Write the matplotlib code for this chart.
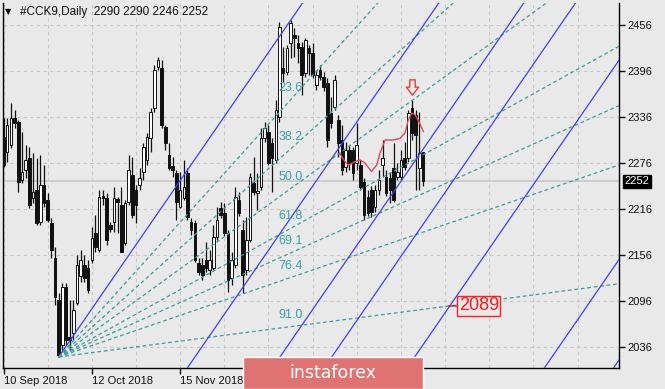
# -*- coding: utf-8 -*-
# MT4 style daily chart of #CCK9 with a fibo fan, parallel lines and a few marks
import numpy as np
import matplotlib
matplotlib.use('Agg')
import matplotlib.pyplot as plt
from matplotlib.patches import Rectangle
from matplotlib.path import Path
from matplotlib.transforms import offset_copy

# %% data (one value per daily bar)
opens = [2310, 2290, 2300, 2335, 2329, 2254, 2267, 2282, 2230, 2241,
         2199, 2247, 2228, 2198, 2152, 2097, 2039, 2114, 2049, 2054,
         2093, 2128, 2143, 2139, 2149, 2185, 2163, 2233, 2230, 2195,
         2199, 2229, 2221, 2172, 2225, 2260, 2241, 2247, 2264, 2280,
         2309, 2348, 2401, 2400, 2323, 2286, 2272, 2263, 2219, 2230,
         2263, 2199, 2198, 2146, 2143, 2149, 2136, 2139, 2180, 2217,
         2211, 2185, 2126, 2143, 2228, 2189, 2136, 2176, 2250, 2237,
         2245, 2309, 2316, 2302, 2280, 2336, 2400, 2395, 2433, 2443,
         2433, 2427, 2393, 2426, 2419, 2378, 2397, 2388, 2380, 2341,
         2349, 2332, 2306, 2271, 2293, 2293, 2276, 2273, 2251, 2232,
         2241, 2219, 2241, 2273, 2258, 2256, 2269, 2258, 2258, 2283,
         2283, 2348, 2339, 2269, 2290]
highs = [2335, 2335, 2354, 2345, 2332, 2316, 2299, 2297, 2289, 2282,
         2286, 2273, 2237, 2204, 2166, 2106, 2120, 2120, 2097, 2097,
         2156, 2163, 2156, 2149, 2193, 2208, 2241, 2241, 2237, 2199,
         2245, 2232, 2245, 2228, 2286, 2284, 2247, 2270, 2302, 2315,
         2348, 2404, 2414, 2410, 2326, 2302, 2284, 2267, 2264, 2280,
         2270, 2204, 2202, 2152, 2152, 2173, 2163, 2195, 2219, 2225,
         2224, 2189, 2160, 2245, 2238, 2202, 2206, 2263, 2284, 2263,
         2322, 2329, 2326, 2309, 2358, 2460, 2427, 2430, 2462, 2452,
         2443, 2434, 2439, 2430, 2433, 2397, 2404, 2395, 2387, 2362,
         2391, 2339, 2326, 2303, 2299, 2297, 2328, 2280, 2256, 2241,
         2246, 2247, 2267, 2306, 2267, 2264, 2302, 2276, 2293, 2303,
         2345, 2358, 2345, 2343, 2290]
lows = [2271, 2277, 2296, 2322, 2238, 2250, 2256, 2217, 2224, 2195,
        2195, 2219, 2199, 2152, 2091, 2023, 2032, 2039, 2032, 2045,
        2091, 2121, 2121, 2106, 2146, 2160, 2160, 2221, 2169, 2186,
        2186, 2185, 2160, 2169, 2221, 2204, 2198, 2241, 2254, 2273,
        2290, 2343, 2397, 2322, 2293, 2267, 2258, 2202, 2217, 2228,
        2202, 2182, 2147, 2130, 2123, 2134, 2130, 2136, 2176, 2204,
        2181, 2108, 2117, 2139, 2207, 2106, 2130, 2173, 2234, 2215,
        2241, 2303, 2273, 2238, 2276, 2329, 2382, 2391, 2413, 2414,
        2406, 2365, 2388, 2391, 2387, 2371, 2384, 2370, 2297, 2322,
        2345, 2284, 2260, 2264, 2267, 2254, 2267, 2241, 2202, 2207,
        2206, 2212, 2234, 2258, 2233, 2224, 2225, 2254, 2254, 2267,
        2277, 2306, 2241, 2241, 2246]
closes = [2273, 2326, 2335, 2328, 2251, 2264, 2280, 2221, 2238, 2198,
          2247, 2224, 2202, 2163, 2101, 2026, 2114, 2045, 2045, 2084,
          2143, 2149, 2126, 2110, 2178, 2167, 2232, 2230, 2176, 2190,
          2230, 2225, 2160, 2224, 2267, 2208, 2221, 2256, 2297, 2310,
          2343, 2397, 2410, 2326, 2302, 2270, 2267, 2225, 2241, 2245,
          2206, 2189, 2149, 2134, 2130, 2139, 2149, 2180, 2202, 2208,
          2185, 2123, 2149, 2232, 2211, 2130, 2176, 2258, 2238, 2240,
          2309, 2322, 2276, 2282, 2345, 2453, 2393, 2426, 2459, 2439,
          2426, 2391, 2436, 2419, 2391, 2391, 2388, 2375, 2306, 2328,
          2384, 2302, 2267, 2293, 2276, 2263, 2299, 2245, 2208, 2211,
          2212, 2241, 2254, 2282, 2237, 2241, 2228, 2264, 2280, 2271,
          2341, 2315, 2313, 2289, 2252]

price_ticks = [2036, 2096, 2156, 2216, 2276, 2336, 2396, 2456]
date_pos = [0, 24, 48]
date_labels = ['10 Sep 2018', '12 Oct 2018', '15 Nov 2018']

# fibo fan: from the low bar to the high bar
fan_start = 15
fan_end = 78
fan_levels = [23.6, 38.2, 50.0, 61.8, 69.1, 76.4, 91.0]
# blue parallels, price distance below the fan base line
channel_offsets = [258, 419, 517, 674, 934, 1065]

# red hand drawn curve (bar, price)
red_x = [91.4, 92.8, 93.7, 95.5, 96.9, 98.2, 100.0, 101.4, 102.3, 103.7,
         105.9, 107.7, 109.1, 110.0, 110.9, 111.8, 112.9, 114.1]
red_y = [2288, 2278, 2273, 2278, 2280, 2276, 2265, 2273, 2289, 2306,
         2306, 2308, 2315, 2332, 2341, 2339, 2330, 2317]

arrow_bar = 111
mark_bar = 121
mark_label = '2089'

# %% colours
bg = '#e9e9e9'
blue = '#4040ff'
teal = '#3a9e9e'
teal_txt = '#3aa2aa'

plt.rcParams['font.family'] = ['Liberation Sans', 'DejaVu Sans']

fig = plt.figure(figsize=(6.65, 3.89), dpi=100, facecolor=bg)
ax = fig.add_axes([3 / 665, 21 / 389, 616 / 665, 365 / 389])
ax.set_facecolor(bg)
xmin, xmax = -0.136, 167.26
ax.set_xlim(xmin, xmax)
ax.set_ylim(2008.6, 2484.7)

# grid
for p in price_ticks:
    ax.axhline(p, color='#c8c8c8', lw=0.8, ls=(0, (3, 3)), zorder=0)
for b in range(0, 168, 12):
    ax.axvline(b, color='#c8c8c8', lw=0.8, ls=(0, (3, 3)), zorder=0)
ax.axhline(closes[-1], color='#cbcbcb', lw=1.3, zorder=0.5)

# candles
o = np.array(opens)
h = np.array(highs)
l = np.array(lows)
c = np.array(closes)
idx = np.arange(len(o))
ax.vlines(idx, l, h, color='#111111', lw=0.9, zorder=2)
up = c >= o
ax.bar(idx[up], (c - o)[up], bottom=o[up], width=0.7, color='white',
       edgecolor='#111111', lw=0.7, zorder=3)
ax.bar(idx[~up], (o - c)[~up], bottom=c[~up], width=0.7, color='#111111',
       edgecolor='#111111', lw=0.7, zorder=3)

# fibo fan
p1 = lows[fan_start]
p2 = highs[fan_end]
slope = (p2 - p1) / (fan_end - fan_start)
xx = np.array([fan_start, xmax])
ax.plot(xx, p1 + slope * (xx - fan_start), color=blue, lw=0.9, zorder=4)
for lev in fan_levels:
    k = 1 - lev / 100
    ax.plot(xx, p1 + k * slope * (xx - fan_start), color=teal, lw=0.9,
            ls=(0, (3, 2.2)), zorder=4)
    ax.annotate(f'{lev:.1f}', xy=(fan_end, p1 + k * (p2 - p1)),
                xytext=(0, 12), textcoords='offset pixels', ha='center',
                va='center', fontsize=9, color=teal_txt, zorder=5)

# parallel blue lines
for off in channel_offsets:
    ax.plot(xx, p1 + slope * (xx - fan_start) - off, color=blue, lw=0.9,
            zorder=4)

# red curve and arrow
ax.plot(red_x, red_y, color='#e04858', lw=1, zorder=5)
arrow = Path([(-0.18, 0.5), (0.18, 0.5), (0.18, 0.02), (0.4, 0.02),
              (0, -0.5), (-0.4, 0.02), (-0.18, 0.02), (-0.18, 0.5)],
             [Path.MOVETO] + [Path.LINETO] * 6 + [Path.CLOSEPOLY])
tr = offset_copy(ax.transData, fig=fig, x=0, y=13, units='dots')
ax.plot([arrow_bar], [highs[arrow_bar]], marker=arrow, ms=11, mfc='none',
        mec='#f03c3c', mew=1, transform=tr, zorder=6)

# price mark on the 91.0 ray
mark_y = p1 + (1 - fan_levels[-1] / 100) * slope * (mark_bar - fan_start)
ax.annotate(mark_label, xy=(mark_bar, mark_y), xytext=(10, 0),
            textcoords='offset pixels', ha='left', va='center', fontsize=13,
            color='#ff1a1a',
            bbox=dict(boxstyle='square,pad=0.08', fc=bg, ec='#ff2020', lw=1),
            arrowprops=dict(arrowstyle='-', color='#c02020', lw=1,
                            shrinkA=0, shrinkB=0), zorder=6)

# axes look
for s in ['left', 'bottom', 'right']:
    ax.spines[s].set_color('black')
    ax.spines[s].set_linewidth(1)
ax.spines['top'].set_visible(False)
ax.yaxis.tick_right()
ax.set_yticks(price_ticks)
ax.tick_params(axis='y', length=4, width=1, pad=2, labelsize=8, colors='#111111')
ax.set_xticks(date_pos)
ax.set_xticklabels(date_labels, ha='left')
ax.tick_params(axis='x', length=4, width=1, pad=2, labelsize=8, colors='#111111')

# last price box
ax.text(1.009, closes[-1], str(closes[-1]), transform=ax.get_yaxis_transform(),
        ha='left', va='center', color='white', fontsize=8,
        bbox=dict(boxstyle='square,pad=0.15', fc='black', ec='black'))

# title
fig.text(5 / 665, 1 - 12 / 389, '▼', fontsize=6, va='center', ha='left',
         family='DejaVu Sans', color='black')
fig.text(20 / 665, 1 - 12 / 389,
         f'#CCK9,Daily  {opens[-1]} {highs[-1]} {lows[-1]} {closes[-1]}',
         fontsize=8.5, va='center', ha='left', color='#111111')

# logo
fig.add_artist(Rectangle((243 / 665, 0), 180 / 665, 32 / 389,
                         transform=fig.transFigure, fc='#e07272', ec='white',
                         lw=1, zorder=10))
fig.text(333 / 665, 16 / 389, 'instaforex', color='white', fontsize=12.5,
         family='DejaVu Sans', ha='center', va='center', zorder=11)

plt.savefig('out.png', dpi=100, facecolor=bg)
